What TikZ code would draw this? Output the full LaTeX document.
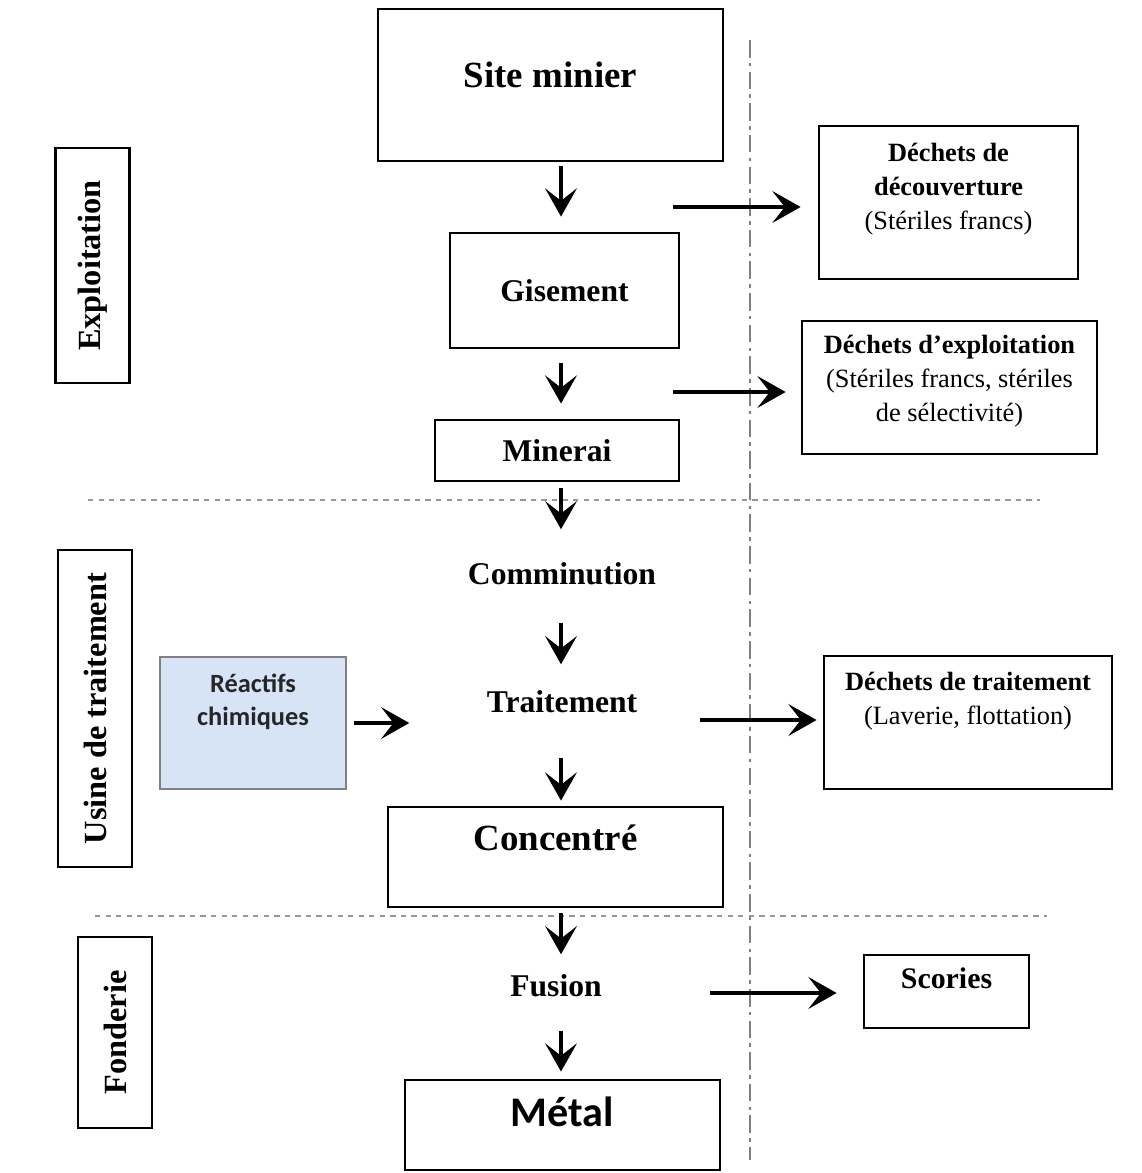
\documentclass[tikz,border=0pt]{standalone}
\usepackage{fontspec}
\setmainfont{Liberation Serif}
\newfontfamily\calibrifont{Carlito}
\usetikzlibrary{positioning, arrows.meta}
\definecolor{reactblue}{RGB}{214,228,246}
\definecolor{sepgray}{RGB}{150,150,150}

\begin{document}
\begin{tikzpicture}[
    box/.style={draw, line width=0.8pt, rectangle, inner sep=0pt, align=center},
    stage/.style={font=\bfseries\fontsize{9}{11}\selectfont, inner sep=0pt},
    bigstage/.style={font=\bfseries\fontsize{10.5}{12.5}\selectfont, inner sep=0pt},
    wastetext/.style={align=center, inner sep=0pt, font=\fontsize{7.5}{9.7}\selectfont},
    sidebox/.style={draw, line width=0.8pt, rotate=90, inner sep=0pt,
        minimum height=0.74cm, font=\bfseries\fontsize{9.2}{11}\selectfont},
    flow/.style={line width=1.4pt, -{Stealth[length=8pt,width=9pt,inset=3.5pt]}},
    sepline/.style={sepgray, line width=0.7pt, dash pattern=on 1.5pt off 1.5pt},
]
    \useasboundingbox (0,0) rectangle (11.41,-11.73);
    \coordinate (col) at (5.61,0);

    % main chain
    \node[box, minimum width=3.45cm, minimum height=1.52cm,
        label={[bigstage, yshift=0.10cm]center:Site minier}] (site) at (5.505,-0.85) {};
    \node[box, stage, minimum width=2.29cm, minimum height=1.15cm] (gis) at (5.645,-2.905) {Gisement};
    \node[box, stage, minimum width=2.44cm, minimum height=0.61cm] (min) at (5.57,-4.505) {Minerai};
    \node[stage, minimum width=3.1cm, minimum height=0.8cm] (comm) at (5.62,-5.74) {Comminution};
    \node[stage, minimum width=3.04cm, minimum height=0.74cm] (trait) at (5.62,-7.02) {Traitement};
    \node[box, minimum width=3.35cm, minimum height=1.0cm,
        label={[bigstage, yshift=0.19cm]center:Concentré}] (conc) at (5.555,-8.57) {};
    \node[stage, minimum width=2.4cm, minimum height=0.62cm] (fus) at (5.56,-9.86) {Fusion};
    \node[box, minimum width=3.15cm, minimum height=0.9cm,
        label={[font=\calibrifont\bfseries\fontsize{12}{14}\selectfont, inner sep=0pt, yshift=0.13cm]center:Métal}] (metal) at (5.625,-11.25) {};

    % waste boxes
    \node[box, minimum width=2.59cm, minimum height=1.53cm,
        label={[wastetext, yshift=0.13cm]center:{\textbf{Déchets de}\\\textbf{découverture}\\(Stériles francs)}}] (wdec) at (9.485,-2.025) {};
    \node[box, minimum width=2.95cm, minimum height=1.33cm,
        label={[wastetext, yshift=0.06cm]center:{\textbf{Déchets d’exploitation}\\(Stériles francs, stériles\\de sélectivité)}}] (wexp) at (9.495,-3.875) {};
    \node[box, minimum width=2.88cm, minimum height=1.33cm,
        label={[wastetext, yshift=0.21cm]center:{\textbf{Déchets de traitement}\\(Laverie, flottation)}}] (wtrt) at (9.68,-7.225) {};
    \node[box, minimum width=1.65cm, minimum height=0.73cm,
        label={[font=\bfseries\fontsize{8.5}{10}\selectfont, inner sep=0pt, yshift=0.13cm]center:Scories}] (scor) at (9.465,-9.915) {};
    \node[box, draw=gray, line width=0.7pt, fill=reactblue, minimum width=1.86cm, minimum height=1.32cm,
        label={[font=\calibrifont\bfseries\fontsize{7.5}{9.4}\selectfont, align=center, inner sep=0pt,
            text=black!85, yshift=0.21cm]center:{Réactifs\\chimiques}}] (react) at (2.53,-7.23) {};

    % stage labels
    \node[sidebox, minimum width=2.35cm] (sexp) at (0.925,-2.655) {Exploitation};
    \node[sidebox, minimum width=3.17cm] (susi) at (0.95,-7.085) {Usine de traitement};
    \node[sidebox, minimum width=1.91cm] (sfon) at (1.15,-10.325) {Fonderie};

    % separators
    \draw[sepline] (0.88,-5.00) -- (10.40,-5.00);
    \draw[sepline] (0.95,-9.16) -- (10.47,-9.16);
    \draw[gray, line width=0.6pt, dash pattern=on 5pt off 1.5pt on 1pt off 1.5pt] (7.50,-0.40) -- (7.50,-11.60);

    % flow arrows
    \draw[flow, shorten <=0.04cm, shorten >=0.15cm] (site.south -| col) -- (gis.north -| col);
    \draw[flow, shorten <=0.14cm, shorten >=0.15cm] (gis.south -| col) -- (min.north -| col);
    \draw[flow, shorten <=0.06cm, shorten >=0.04cm] (min.south -| col) -- (comm.north -| col);
    \draw[flow, shorten <=0.08cm] (comm.south -| col) -- (trait.north -| col);
    \draw[flow, shorten <=0.18cm, shorten >=0.05cm] (trait.south -| col) -- (conc.north -| col);
    \draw[flow, shorten <=0.05cm] (conc.south -| col) -- (fus.north -| col);
    \draw[flow, shorten <=0.13cm, shorten >=0.07cm] (fus.south -| col) -- (metal.north -| col);
    \draw[flow, shorten <=0.07cm] (react.east) -- (react.east -| trait.west);

    % waste arrows
    \coordinate (o1) at (6.73,-2.07);
    \coordinate (o2) at (6.73,-3.92);
    \coordinate (o3) at (7.00,-7.20);
    \coordinate (o4) at (7.10,-9.93);
    \draw[flow, shorten >=0.17cm] (o1) -- (o1 -| wdec.west);
    \draw[flow, shorten >=0.15cm] (o2) -- (o2 -| wexp.west);
    \draw[flow, shorten >=0.06cm] (o3) -- (o3 -| wtrt.west);
    \draw[flow, shorten >=0.26cm] (o4) -- (o4 -| scor.west);
\end{tikzpicture}
\end{document}
